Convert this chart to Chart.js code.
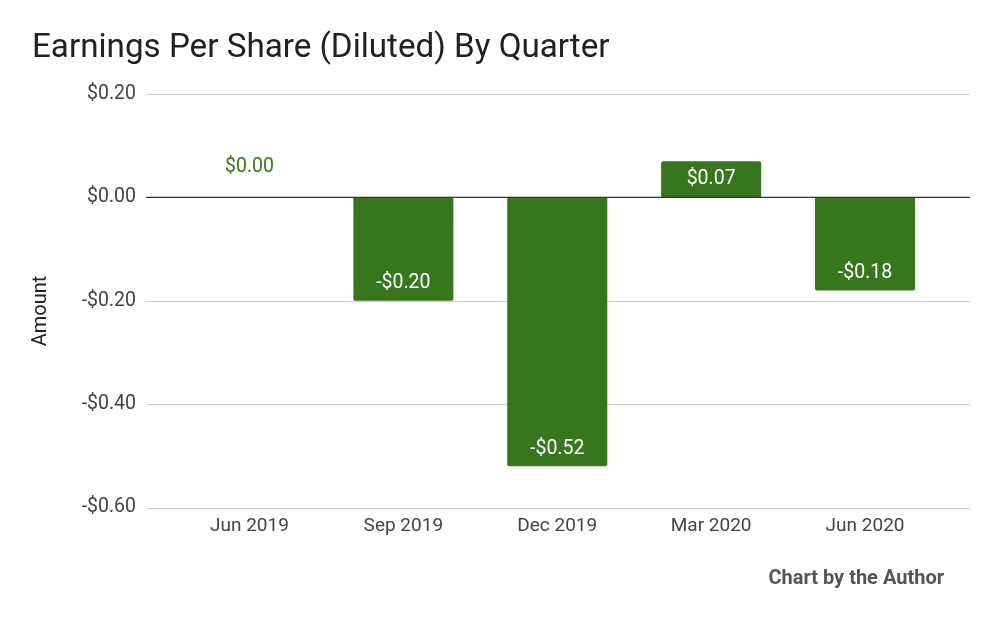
<!DOCTYPE html>
<html>
<head>
<meta charset="utf-8">
<script src="https://cdn.jsdelivr.net/npm/chart.js@4"></script>
<style>
  html, body { margin: 0; padding: 0; background: #ffffff; }
  #wrap { width: 1000px; height: 618px; position: relative; }
</style>
</head>
<body>
<div id="wrap"><canvas id="c"></canvas></div>
<script>
const categories = ['Jun 2019', 'Sep 2019', 'Dec 2019', 'Mar 2020', 'Jun 2020'];
const epsValues = [0.00, -0.20, -0.52, 0.07, -0.18];
const valueLabels = ['$0.00', '-$0.20', '-$0.52', '$0.07', '-$0.18'];
const yTickValues = [0.2, 0, -0.2, -0.4, -0.6];
const yTickLabels = ['$0.20', '$0.00', '-$0.20', '-$0.40', '-$0.60'];
const chartTitle = 'Earnings Per Share (Diluted) By Quarter';
const yAxisTitle = 'Amount';
const footnote = 'Chart by the Author';

const BAR = '#38761d';
const FONT = 'Roboto, "Noto Sans", sans-serif';

const decorPlugin = {
  id: 'decor',
  beforeDatasetsDraw(chart) {
    const ctx = chart.ctx, y = chart.scales.y;
    ctx.save();
    ctx.lineWidth = 1;
    ctx.strokeStyle = '#cccccc';
    yTickValues.forEach(v => {
      if (v === 0) return;
      const py = Math.round(y.getPixelForValue(v)) + 0.5;
      ctx.beginPath(); ctx.moveTo(146, py); ctx.lineTo(970, py); ctx.stroke();
    });
    ctx.restore();
  },
  afterDatasetsDraw(chart) {
    const ctx = chart.ctx, y = chart.scales.y;
    const zero = y.getPixelForValue(0);
    ctx.save();
    ctx.strokeStyle = '#333333';
    ctx.lineWidth = 1.3;
    ctx.beginPath(); ctx.moveTo(146, zero); ctx.lineTo(970, zero); ctx.stroke();

    // value labels
    const meta = chart.getDatasetMeta(0);
    ctx.font = '19.5px ' + FONT;
    ctx.textAlign = 'center';
    ctx.textBaseline = 'middle';
    meta.data.forEach((bar, i) => {
      const v = epsValues[i];
      let py, color;
      if (v === 0) { py = zero - 30; color = BAR; }
      else if (v < 0) { py = bar.y - 17.5; color = '#ffffff'; }
      else { py = bar.y + 17.5; color = '#ffffff'; }
      ctx.fillStyle = color;
      ctx.fillText(valueLabels[i], bar.x, py);
    });

    // title
    ctx.textAlign = 'left';
    ctx.textBaseline = 'alphabetic';
    ctx.fillStyle = '#212121';
    ctx.font = '33.2px ' + FONT;
    ctx.fillText(chartTitle, 32, 57);

    // footnote
    ctx.textAlign = 'right';
    ctx.fillStyle = '#555555';
    ctx.font = 'bold 20px ' + FONT;
    ctx.fillText(footnote, 944, 584);

    // y axis title
    ctx.save();
    ctx.translate(46, 311);
    ctx.rotate(-Math.PI / 2);
    ctx.textAlign = 'center';
    ctx.fillStyle = '#222222';
    ctx.font = '20px ' + FONT;
    ctx.fillText(yAxisTitle, 0, 0);
    ctx.restore();
    ctx.restore();
  }
};

new Chart(document.getElementById('c'), {
  type: 'bar',
  data: {
    labels: categories,
    datasets: [{
      data: epsValues,
      backgroundColor: BAR,
      borderRadius: 2,
      borderSkipped: 'start',
      barPercentage: 1,
      categoryPercentage: 0.65
    }]
  },
  options: {
    responsive: true,
    maintainAspectRatio: false,
    devicePixelRatio: 1,
    animation: false,
    layout: { padding: { top: 94, right: 58, bottom: 0, left: 0 } },
    plugins: { legend: { display: false }, tooltip: { enabled: false } },
    scales: {
      x: {
        grid: { display: false, drawTicks: false },
        border: { display: false },
        ticks: { color: '#444444', font: { family: FONT, size: 19 }, padding: 7, maxRotation: 0 },
        afterFit(scale) { scale.height = 110.5; }
      },
      y: {
        min: -0.6, max: 0.2,
        grid: { display: false, drawTicks: false },
        border: { display: false },
        afterBuildTicks(scale) { scale.ticks = yTickValues.map(v => ({ value: v })); },
        ticks: {
          color: '#444444', font: { family: FONT, size: 19.5 }, padding: 36.5,
          callback(value) {
            const i = yTickValues.findIndex(t => Math.abs(t - value) < 1e-9);
            return i >= 0 ? yTickLabels[i] : '';
          }
        },
        afterFit(scale) { scale.width = 172.5; }
      }
    }
  },
  plugins: [decorPlugin]
});
</script>
</body>
</html>
